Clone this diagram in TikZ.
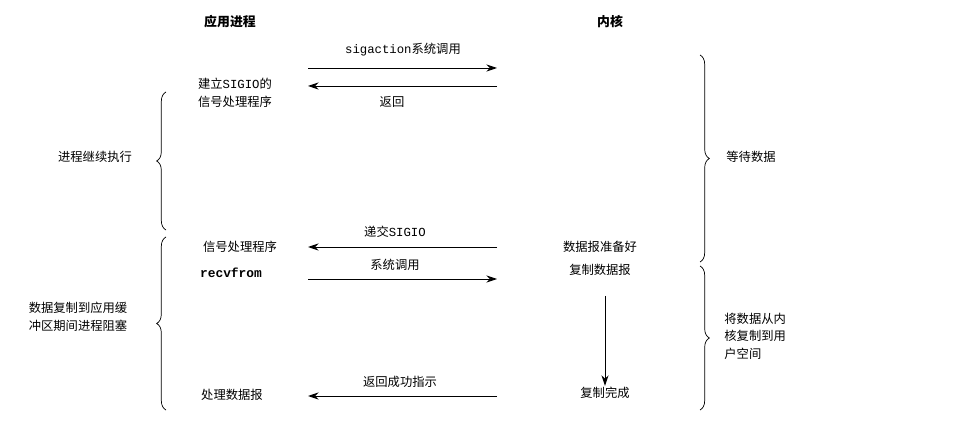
\documentclass[tikz,border=0pt]{standalone}
\usepackage{fontspec}
\setmainfont{Noto Sans CJK SC}
\setmonofont{Liberation Mono}
\usetikzlibrary{decorations.pathreplacing,arrows.meta}
\begin{document}
\begin{tikzpicture}[x=0.03cm,y=-0.03cm,
 lbl/.style={font=\fontsize{10.5}{15}\selectfont,inner sep=1pt},
 hd/.style={font=\fontsize{11}{13}\selectfont\bfseries},
 arr/.style={-{Stealth[length=9pt,width=6pt]},line width=0.8pt},
 br/.style={decorate,decoration={brace,amplitude=8pt},line width=0.6pt}]
\useasboundingbox (0,0) rectangle (955,430);
\node[hd] (h1) at (230,22) {应用进程};
\node[hd] (h2) at (610,22) {内核};
\coordinate (a1s) at (308,68); \coordinate (a1e) at (497,68);
\draw[arr] (a1s) -- (a1e);
\node[lbl] (t1) at (403,50) {\texttt{sigaction}系统调用};
\coordinate (a2s) at (497,86); \coordinate (a2e) at (308,86);
\draw[arr] (a2s) -- (a2e);
\node[lbl] (t2) at (392,102) {返回};
\node[lbl,align=center] (n1) at (235,93) {建立\texttt{SIGIO}的\\信号处理程序};
\draw[br] (700,55) -- (700,262);
\node[lbl,anchor=west] (w1) at (725,157) {等待数据};
\draw[br] (700,266) -- (700,410);
\node[lbl,anchor=west,align=left] (w2) at (723,336) {将数据从内\\核复制到用\\户空间};
\draw[br] (166,230) -- (166,92);
\node[lbl] (l1) at (95,157) {进程继续执行};
\draw[br] (166,410) -- (166,237);
\node[lbl,align=left] (l2) at (78,317) {数据复制到应用缓\\冲区期间进程阻塞};
\node[lbl] (n2) at (240,247) {信号处理程序};
\coordinate (a3s) at (497,247); \coordinate (a3e) at (308,247);
\draw[arr] (a3s) -- (a3e);
\node[lbl] (t3) at (395,232) {递交\texttt{SIGIO}};
\node[lbl] (k1) at (600,247) {数据报准备好};
\node[lbl] (k2) at (600,270) {复制数据报};
\node[lbl,font=\ttfamily\bfseries\fontsize{11}{13}\selectfont] (n3) at (231,273) {recvfrom};
\coordinate (a4s) at (308,279); \coordinate (a4e) at (497,279);
\draw[arr] (a4s) -- (a4e);
\node[lbl] (t4) at (395,265) {系统调用};
\node[lbl] (k3) at (605,393) {复制完成};
\coordinate (v1) at (605,296);
\draw[arr] (v1) -- (k3.north);
\node[lbl] (n4) at (232,395) {处理数据报};
\coordinate (a5s) at (497,396); \coordinate (a5e) at (308,396);
\draw[arr] (a5s) -- (a5e);
\node[lbl] (t5) at (400,382) {返回成功指示};
\end{tikzpicture}
\end{document}
